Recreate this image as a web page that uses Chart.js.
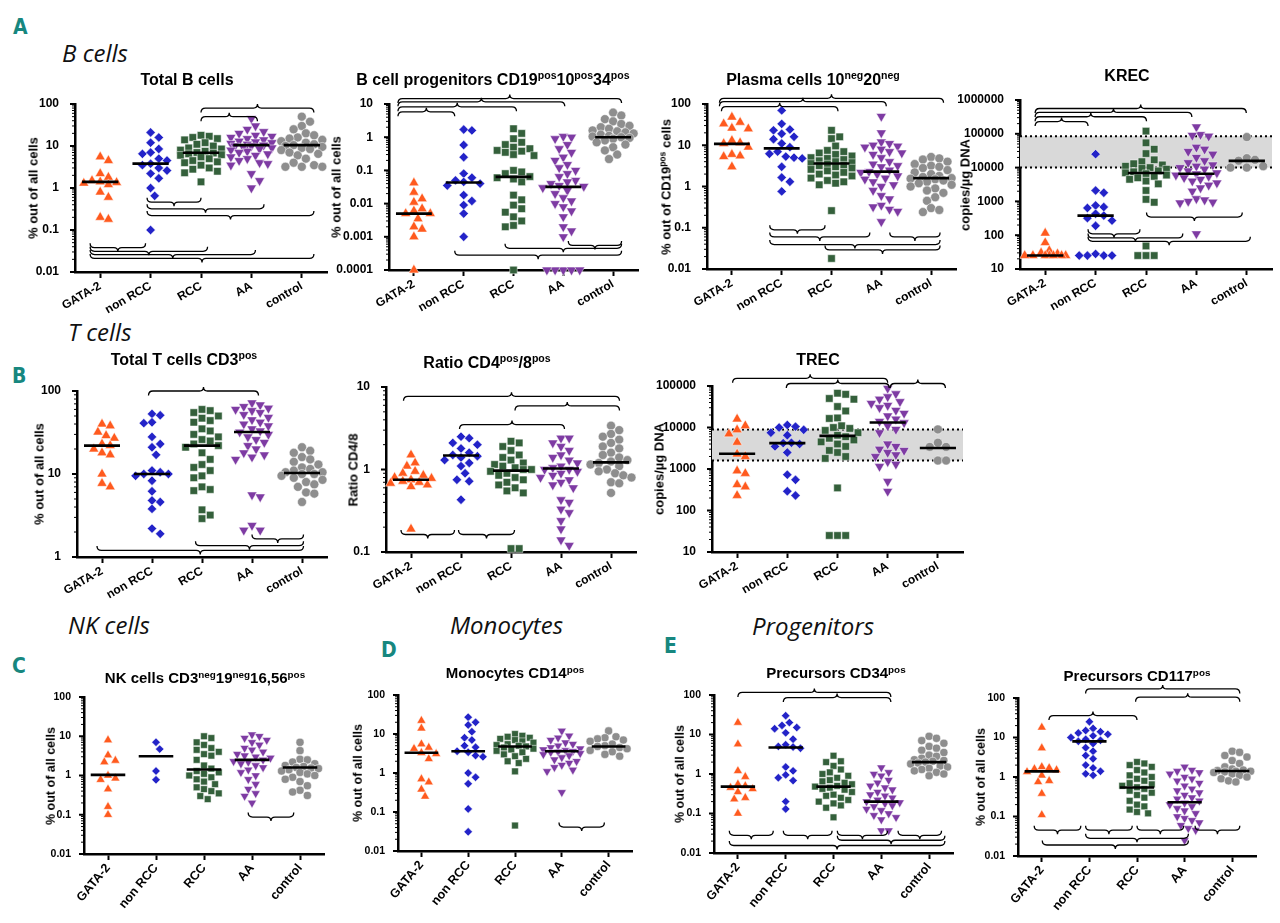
<!DOCTYPE html>
<html>
<head>
<meta charset="utf-8">
<script src="https://cdn.jsdelivr.net/npm/chart.js@4.4.1/dist/chart.umd.min.js"></script>
<style>
  body { margin: 0; background: #fff; width: 1280px; height: 923px; overflow: hidden; position: relative;
         font-family: "Liberation Sans", Arial, sans-serif; color: #000; }
  canvas { position: absolute; }
  .title { position: absolute; transform: translate(-50%, -50%); font-weight: bold; white-space: nowrap; line-height: 1; }
  .ytitle { position: absolute; transform: translate(-50%, -50%) rotate(-90deg); font-weight: bold; white-space: nowrap; line-height: 1; }
  sup { font-size: 0.66em; vertical-align: 0; position: relative; top: -0.55em; }
  .sect { position: absolute; transform: translateY(-50%); font-family: "Open Sans", sans-serif; font-style: italic; font-size: 24px; line-height: 1; color: #111; }
  .letter { position: absolute; transform: translateY(-50%); font-family: "DejaVu Sans Condensed", sans-serif; font-weight: bold; font-size: 21px; line-height: 1; color: #17877f; }
</style>
</head>
<body>
<div class="letter" style="left:13px;top:27px">A</div>
<div class="sect" style="left:62px;top:53px">B cells</div>
<div class="sect" style="left:68px;top:332px">T cells</div>
<div class="letter" style="left:12px;top:376px">B</div>
<div class="sect" style="left:68px;top:625px">NK cells</div>
<div class="letter" style="left:12px;top:666px">C</div>
<div class="sect" style="left:450px;top:625px">Monocytes</div>
<div class="letter" style="left:381px;top:650px">D</div>
<div class="sect" style="left:752px;top:626px">Progenitors</div>
<div class="letter" style="left:664px;top:646px">E</div>

<script>
// Gruppen
const groups = ['GATA-2', 'non RCC', 'RCC', 'AA', 'control'];

// Total B cells (% out of all cells)
const totalB = [
  [5.5, 4.5, 2.2, 1.8, 1.5, 1.4, 1.35, 1.3, 1.2, 0.8, 0.6, 0.2, 0.18],
  [21, 16, 12, 8.5, 7, 6.5, 5, 4.5, 3.8, 3.5, 3, 2.6, 2.2, 1.7, 1.0, 0.65, 0.1],
  [18, 17, 16, 15, 14, 12, 11, 10, 9, 8.5, 8, 7.5, 7, 6.8, 6.5, 6.2, 6, 5.5, 5, 4.5, 4.2, 4, 3.5, 3, 2.8, 2.5, 2.3, 1.4],
  [45, 30, 25, 22, 20, 18, 17, 16, 15, 14, 13, 12.5, 12, 11.5, 11, 10.5, 10, 10, 9.5, 9, 8.5, 8, 7.5, 7, 6.5, 6, 5.5, 5, 4.5, 4, 3.8, 3.5, 2.2, 1.5, 1.0],
  [50, 38, 30, 25, 20, 18, 16, 15, 14, 13, 12, 11, 10.5, 10, 9.5, 9, 8.5, 8, 7, 6.5, 6, 5, 4, 3.5, 3.2, 3.2, 3.2]
];
const totalB_med = [1.4, 3.8, 6.9, 10.5, 10.5];
// Klammern: [von, bis, y-Wert, Richtung (1 = oben, -1 = unten)]
const totalB_br = [
  [2.0, 4.24, 80, 1], [2.0, 3.12, 50, 1],
  [0.93, 2.0, 0.46, -1], [0.93, 3.25, 0.32, -1], [0.93, 4.24, 0.22, -1],
  [-0.2, 0.9, 0.038, -1], [-0.2, 2.13, 0.031, -1], [-0.2, 3.08, 0.026, -1], [-0.2, 4.24, 0.021, -1]
];

// B cell progenitors
const progB = [
  [0.042, 0.022, 0.014, 0.011, 0.007, 0.006, 0.005, 0.005, 0.0035, 0.002, 0.0017, 0.001, 0.0001],
  [1.7, 1.6, 0.58, 0.25, 0.08, 0.06, 0.05, 0.045, 0.04, 0.035, 0.018, 0.012, 0.009, 0.005, 0.001],
  [1.8, 1.3, 0.9, 0.7, 0.6, 0.5, 0.45, 0.4, 0.38, 0.35, 0.3, 0.28, 0.1, 0.09, 0.08, 0.065, 0.06, 0.055, 0.045, 0.018, 0.013, 0.009, 0.007, 0.0055, 0.004, 0.003, 0.0022, 0.002, 0.0001],
  [1.05, 1.0, 0.9, 0.6, 0.45, 0.35, 0.25, 0.2, 0.15, 0.12, 0.1, 0.08, 0.065, 0.05, 0.045, 0.04, 0.035, 0.033, 0.03, 0.025, 0.02, 0.015, 0.012, 0.01, 0.008, 0.006, 0.004, 0.002, 0.0015, 0.001, 0.0001, 0.0001, 0.0001, 0.0001, 0.0001],
  [5.5, 4.5, 3.5, 3, 2.5, 2.2, 2, 1.8, 1.6, 1.5, 1.4, 1.3, 1.2, 1.1, 1.05, 1.0, 0.95, 0.9, 0.8, 0.7, 0.6, 0.5, 0.4, 0.3, 0.22]
];
const progB_med = [0.005, 0.043, 0.064, 0.032, 1.0];
const progB_br = [
  [-0.32, 4.17, 14.6, 1], [-0.32, 3.03, 11.6, 1], [-0.32, 2.06, 8.2, 1], [-0.32, 0.82, 5.8, 1],
  [3.1, 4.17, 0.00055, -1], [1.83, 4.17, 0.00045, -1], [0.82, 4.17, 0.00028, -1]
];

// Plasma cells (% out of CD19pos cells)
const plasma = [
  [48, 36, 33, 26, 25, 13, 11.5, 11, 9, 6, 5.5, 5.3, 3],
  [70, 33, 24, 23, 19, 16, 14, 11, 9, 7, 6.2, 5.3, 5, 4.8, 3, 1.65, 1.3, 0.76],
  [23, 16, 14.5, 9.6, 7.5, 7, 6.5, 6, 5.5, 5, 4.8, 4.5, 4.2, 4, 3.8, 3.6, 3.5, 3.3, 3.2, 3, 2.8, 2.6, 2.4, 2.2, 2, 1.9, 1.8, 1.6, 1.4, 1.3, 1.2, 1.1, 0.26, 0.018],
  [50, 20, 12, 11, 10, 9.5, 9, 8, 7, 6.5, 6, 5, 4, 3.5, 3.2, 3, 2.5, 2.3, 2.2, 2, 1.8, 1.6, 1.5, 1.3, 1.1, 1, 0.8, 0.6, 0.5, 0.35, 0.32, 0.28, 0.25, 0.14],
  [5.2, 4.8, 4.5, 4, 3.5, 3.2, 3, 2.8, 2.5, 2.2, 2, 1.8, 1.7, 1.6, 1.55, 1.5, 1.4, 1.3, 1.2, 1.1, 1, 0.9, 0.8, 0.7, 0.55, 0.45, 0.3, 0.27, 0.24]
];
const plasma_med = [10.8, 8.4, 3.6, 2.3, 1.6];
const plasma_br = [
  [-0.25, 4.25, 137, 1], [-0.25, 3.1, 114, 1], [-0.21, 2.13, 86, 1],
  [0.76, 1.87, 0.089, -1], [0.76, 2.77, 0.06, -1], [3.17, 4.18, 0.06, -1], [0.76, 4.18, 0.039, -1], [1.87, 4.18, 0.029, -1]
];

// KREC (copies/µg DNA)
const krec = [
  [115, 60, 35, 30, 28, 25, 25, 25, 25, 25, 25, 25],
  [25000, 2100, 1800, 760, 680, 640, 430, 380, 320, 270, 190, 28, 25, 25, 25, 25],
  [120000, 54000, 35000, 26000, 17000, 15000, 13000, 12000, 11000, 10000, 9500, 9000, 8000, 7500, 7000, 6600, 6000, 5500, 5000, 4500, 4000, 3300, 2100, 1150, 940, 48, 25, 25, 25],
  [160000, 95000, 90000, 85000, 40000, 35000, 30000, 25000, 20000, 16000, 14000, 12000, 11000, 10000, 9000, 8000, 7000, 6500, 6000, 5500, 5000, 4500, 4000, 3500, 3000, 2500, 2000, 1200, 1100, 1000, 950, 900, 110],
  [80000, 19000, 17000, 16000, 11000, 10000, 10000]
];
const krec_med = [25, 380, 6900, 6600, 15800];
const krec_band = [10000, 85000];
const krec_br = [
  [-0.2, 3.99, 560000, 1], [-0.2, 2.91, 430000, 1], [-0.2, 2.01, 320000, 1], [-0.2, 0.85, 230000, 1],
  [2.01, 3.91, 343, -1], [0.85, 1.88, 110, -1], [0.85, 2.73, 83, -1], [0.85, 4.07, 66, -1]
];

// Total T cells CD3pos
const totalT = [
  [40, 38, 32, 29, 27, 23, 22, 20, 18, 17, 10, 7.7, 7],
  [53, 51, 42, 41, 28, 23, 21, 17, 11, 10.5, 10, 10, 9.5, 8.3, 6.2, 4.8, 4.6, 3.8, 2.2, 1.9],
  [60, 58, 55, 50, 47, 44, 42, 35, 33, 30, 28, 26, 25, 23, 22, 21, 18, 15, 13, 12, 11, 9.5, 9, 7, 6.5, 6.3, 3.7, 3.2, 2.9],
  [72, 68, 65, 62, 60, 58, 55, 52, 48, 45, 42, 40, 38, 35, 33, 32, 30, 28, 26, 24, 22, 20, 18, 17, 16, 15, 5.6, 5.3, 2.4, 2.1, 2.1],
  [21, 19, 18, 16, 15, 14, 13, 12, 11.5, 11, 10.5, 10.5, 10, 10, 9.5, 9, 8.5, 8, 7.5, 7, 6, 5.8, 4.6]
];
const totalT_med = [22, 10, 22, 32, 10.3];
const totalT_br = [
  [0.93, 3.13, 100, 1],
  [3.0, 4.03, 1.65, -1], [1.87, 4.03, 1.37, -1], [-0.1, 4.03, 1.2, -1]
];

// Ratio CD4/8
const ratio = [
  [1.5, 1.2, 1.1, 0.95, 0.9, 0.85, 0.8, 0.78, 0.75, 0.72, 0.7, 0.68, 0.65, 0.62, 0.19],
  [2.5, 2.4, 2.1, 2.0, 1.8, 1.6, 1.5, 1.45, 1.4, 1.3, 1.2, 1.1, 0.9, 0.75, 0.72, 0.43],
  [2.2, 2.1, 1.9, 1.7, 1.5, 1.4, 1.3, 1.2, 1.15, 1.1, 1.05, 1.0, 1.0, 0.95, 0.9, 0.85, 0.8, 0.75, 0.7, 0.65, 0.6, 0.55, 0.52, 0.11, 0.11],
  [2.4, 2.4, 2.1, 1.9, 1.7, 1.5, 1.4, 1.3, 1.2, 1.1, 1.05, 1.0, 1.0, 0.95, 0.9, 0.85, 0.8, 0.75, 0.7, 0.65, 0.6, 0.43, 0.4, 0.33, 0.3, 0.24, 0.19, 0.14, 0.12],
  [3.4, 3.0, 2.7, 2.5, 2.3, 2.1, 1.9, 1.8, 1.6, 1.5, 1.4, 1.3, 1.25, 1.2, 1.15, 1.1, 1.0, 0.95, 0.9, 0.85, 0.8, 0.7, 0.68, 0.52]
];
const ratio_med = [0.75, 1.48, 0.97, 1.03, 1.22];
const ratio_br = [
  [-0.15, 4.17, 7.7, 1], [2.08, 4.17, 5.9, 1], [0.97, 3.07, 3.5, 1],
  [-0.2, 0.87, 0.163, -1], [0.95, 2.07, 0.163, -1]
];

// TREC (copies/µg DNA)
const trec = [
  [16000, 11000, 8800, 7000, 4400, 2300, 2000, 900, 780, 420, 370, 230],
  [11500, 10500, 10000, 8800, 7500, 6500, 4300, 4200, 4000, 3500, 2500, 730, 550, 290, 230],
  [67000, 63000, 50000, 48000, 32000, 25000, 17000, 16500, 11000, 10000, 9500, 8500, 7500, 6500, 6000, 5500, 5000, 4500, 4000, 3500, 2800, 2500, 2000, 1800, 350, 25, 25, 25],
  [88000, 65000, 55000, 48000, 42000, 38000, 34000, 30000, 26000, 22000, 19000, 16000, 14000, 13000, 11000, 9000, 7500, 4000, 3500, 3000, 2800, 2500, 2200, 2000, 1500, 1300, 1150, 500, 290],
  [9000, 4300, 3400, 3400, 1600, 1600]
];
const trec_med = [2330, 4200, 6300, 13200, 3200];
const trec_band = [1600, 9000];
const trec_br = [
  [-0.09, 3.0, 153000, 1], [0.98, 3.03, 115000, 1], [3.05, 4.15, 115000, 1]
];

// NK cells
const nk = [
  [8, 3.3, 2.4, 2.2, 1.0, 0.85, 0.78, 0.45, 0.16, 0.1],
  [7, 4.7, 1.3, 0.78],
  [10, 9, 7, 6, 5, 4.5, 4, 3.5, 3.2, 2.5, 1.8, 1.5, 1.3, 1.2, 1.1, 1.0, 0.9, 0.8, 0.7, 0.6, 0.5, 0.45, 0.4, 0.35, 0.3, 0.25],
  [11, 10, 9, 8, 7, 6, 5, 4.5, 4, 3.5, 3.2, 3, 2.8, 2.5, 2.3, 2.2, 2, 1.8, 1.6, 1.4, 1.2, 1, 0.8, 0.6, 0.45, 0.35, 0.3, 0.2],
  [7, 4.3, 2.6, 2.5, 2.2, 2, 1.8, 1.7, 1.6, 1.55, 1.5, 1.4, 1.3, 1.2, 1.1, 1, 0.9, 0.8, 0.7, 0.55, 0.42, 0.38, 0.31]
];
const nk_med = [1.04, 3.1, 1.42, 2.5, 1.6];
const nk_br = [[2.92, 3.87, 0.087, -1]];

// Monocytes CD14pos
const mono = [
  [22, 14, 5.5, 4.5, 4.2, 3.3, 3.1, 2.3, 0.7, 0.58, 0.38, 0.25],
  [27, 20, 17, 11.5, 8, 7, 5, 4.6, 3.6, 3.4, 2.8, 2.6, 1.0, 0.78, 0.53, 0.12, 0.031],
  [10, 9, 8.5, 8, 7.5, 7, 6.5, 6, 5.5, 5.2, 5, 4.8, 4.5, 4.2, 4, 3.7, 3.4, 3, 2.7, 2.3, 2, 1.8, 1.1, 0.045],
  [12, 9, 8, 7, 6, 5.5, 5, 4.5, 4.2, 4, 3.8, 3.6, 3.5, 3.4, 3.2, 3, 2.8, 2.5, 2.2, 2, 1.8, 1.6, 1.4, 1.2, 1.1, 0.32],
  [12, 8.5, 8, 7.5, 7, 6.5, 5.5, 5, 4.8, 4.5, 4.2, 3.8, 3.5, 3, 2.7]
];
const mono_med = [3.3, 3.6, 4.8, 3.6, 4.8];
const mono_br = [[2.94, 3.91, 0.041, -1]];

// Precursors CD34pos
const cd34 = [
  [20, 5.7, 1.2, 0.85, 0.55, 0.5, 0.45, 0.42, 0.35, 0.25, 0.23, 0.1],
  [30, 20, 17, 15, 14, 11, 7.6, 5.5, 5, 4.8, 4.5, 1.5, 1.2, 0.95, 0.8, 0.68, 0.2, 0.13],
  [2.9, 2.1, 2, 1.6, 1.3, 1.1, 1, 0.9, 0.8, 0.7, 0.65, 0.6, 0.55, 0.5, 0.48, 0.45, 0.42, 0.4, 0.35, 0.3, 0.28, 0.25, 0.22, 0.2, 0.18, 0.16, 0.14, 0.08],
  [1.45, 1.1, 1.0, 0.9, 0.7, 0.6, 0.5, 0.45, 0.4, 0.35, 0.3, 0.28, 0.25, 0.22, 0.2, 0.19, 0.18, 0.16, 0.15, 0.13, 0.12, 0.1, 0.09, 0.08, 0.07, 0.037, 0.037],
  [9, 8, 7, 6, 5, 4.5, 4, 3.5, 3, 2.8, 2.5, 2.3, 2.2, 2.1, 2, 1.9, 1.8, 1.6, 1.5, 1.4, 1.3, 1.2, 1.1, 1.0, 0.9]
];
const cd34_med = [0.48, 4.7, 0.48, 0.2, 2.0];
const cd34_br = [
  [0, 3.2, 116, 1], [0.95, 3.2, 86, 1],
  [-0.18, 0.74, 0.028, -1], [0.95, 1.97, 0.028, -1], [2.08, 3.13, 0.028, -1], [3.35, 4.26, 0.028, -1],
  [2.08, 4.33, 0.021, -1], [-0.18, 4.33, 0.0155, -1]
];

// Precursors CD117pos
const cd117 = [
  [18, 5.4, 1.8, 1.7, 1.6, 1.5, 1.35, 1.1, 0.8, 0.75, 0.38, 0.11],
  [25, 17, 15, 14, 13, 12, 11, 10, 9, 8.5, 8, 7, 5.5, 4.5, 3.5, 2.9, 2, 1.7, 1.4, 1.2, 1.1],
  [2.4, 2.2, 2, 1.8, 1.5, 1.3, 1.1, 1, 0.9, 0.8, 0.7, 0.65, 0.6, 0.55, 0.5, 0.45, 0.4, 0.35, 0.3, 0.25, 0.2, 0.18, 0.15, 0.13, 0.12],
  [1.8, 1.5, 1.4, 1.3, 1.2, 1, 0.9, 0.8, 0.7, 0.6, 0.5, 0.45, 0.4, 0.35, 0.3, 0.28, 0.25, 0.22, 0.2, 0.18, 0.16, 0.14, 0.12, 0.1, 0.09, 0.08, 0.07, 0.06, 0.05, 0.045, 0.025],
  [4.5, 4.2, 3.5, 3.2, 2.6, 2.2, 1.8, 1.6, 1.5, 1.45, 1.4, 1.4, 1.35, 1.3, 1.2, 1.1, 1, 0.9, 0.8, 0.75]
];
const cd117_med = [1.39, 8, 0.54, 0.23, 1.42];
const cd117_br = [
  [0.92, 4.16, 170, 1], [1.97, 4.16, 105, 1], [0.15, 2.0, 36, 1],
  [-0.16, 0.82, 0.045, -1], [0.92, 1.9, 0.045, -1], [2.0, 2.98, 0.045, -1], [3.22, 4.16, 0.045, -1],
  [0.92, 3.08, 0.028, -1], [0.01, 3.08, 0.019, -1]
];

// Aussehen der Gruppen
const colors = ['#ff5a1e', '#2323c8', '#34603b', '#7e3ba3', '#8e8e8e'];
const shapes = ['triangle', 'rectRot', 'rect', 'triangle', 'circle'];
const turns = [0, 0, 0, 180, 0];
const sizes = [5.8, 4.7, 5.3, 5.8, 4.5];

// Lage der Achsen im Bild (L/R = x-Achse, T/B = y-Achse)
const panels = [
  { data: totalB, med: totalB_med, br: totalB_br, min: 0.01, max: 100, L: 75, R: 327, T: 104, B: 272, row: 1,
    title: 'Total B cells', tx: 187, ty: 80, ytitle: '% out of all cells', yoff: 42 },
  { data: progB, med: progB_med, br: progB_br, min: 0.0001, max: 10, L: 389, R: 638, T: 104, B: 270, row: 1,
    title: 'B cell progenitors CD19<sup>pos</sup>10<sup>pos</sup>34<sup>pos</sup>', tx: 493, ty: 80, ytitle: '% out of all cells', yoff: 53 },
  { data: plasma, med: plasma_med, br: plasma_br, min: 0.01, max: 100, L: 707, R: 956, T: 104, B: 269, row: 1,
    title: 'Plasma cells 10<sup>neg</sup>20<sup>neg</sup>', tx: 813, ty: 80, ytitle: '% out of CD19<sup>pos</sup> cells', yoff: 41 },
  { data: krec, med: krec_med, br: krec_br, band: krec_band, min: 10, max: 1000000, L: 1020, R: 1272, T: 100, B: 269, row: 1,
    title: 'KREC', tx: 1127, ty: 76, ytitle: 'copies/µg DNA', yoff: 55 },
  { data: totalT, med: totalT_med, br: totalT_br, min: 1, max: 100, L: 77, R: 327, T: 391, B: 557, row: 2,
    title: 'Total T cells CD3<sup>pos</sup>', tx: 184, ty: 360, ytitle: '% out of all cells', yoff: 38 },
  { data: ratio, med: ratio_med, br: ratio_br, min: 0.1, max: 10, L: 386, R: 636, T: 387, B: 552, row: 2,
    title: 'Ratio CD4<sup>pos</sup>/8<sup>pos</sup>', tx: 487, ty: 363, ytitle: 'Ratio CD4/8', yoff: 33 },
  { data: trec, med: trec_med, br: trec_br, band: trec_band, min: 10, max: 100000, L: 712, R: 963, T: 386, B: 552, row: 2,
    title: 'TREC', tx: 818, ty: 360, ytitle: 'copies/µg DNA', yoff: 53 },
  { data: nk, med: nk_med, br: nk_br, min: 0.01, max: 100, L: 84, R: 324, T: 697, B: 854, row: 3,
    title: 'NK cells CD3<sup>neg</sup>19<sup>neg</sup>16,56<sup>pos</sup>', tx: 205, ty: 677, ytitle: '% out of all cells', yoff: 33 },
  { data: mono, med: mono_med, br: mono_br, min: 0.01, max: 100, L: 398, R: 632, T: 695, B: 851, row: 3,
    title: 'Monocytes CD14<sup>pos</sup>', tx: 515, ty: 672, ytitle: '% out of all cells', yoff: 40 },
  { data: cd34, med: cd34_med, br: cd34_br, min: 0.01, max: 100, L: 714, R: 953, T: 695, B: 853, row: 3,
    title: 'Precursors CD34<sup>pos</sup>', tx: 836, ty: 672, ytitle: '% out of all cells', yoff: 34 },
  { data: cd117, med: cd117_med, br: cd117_br, min: 0.01, max: 100, L: 1018, R: 1256, T: 698, B: 856, row: 3,
    title: 'Precursors CD117<sup>pos</sup>', tx: 1137, ty: 675, ytitle: '% out of all cells', yoff: 37 }
];

// einfacher Beeswarm: Versatz in x aus den Werten berechnen
function swarm(vals, ppd, ppc, diam) {
  const idx = vals.map((v, k) => k).sort((a, b) => vals[b] - vals[a]);
  const placed = [], off = [];
  const cands = [0];
  for (let s = diam / 2; s <= ppc * 0.44; s += diam / 2) cands.push(s, -s);
  idx.forEach(k => {
    const py = Math.log10(vals[k]) * ppd;
    let best = 0, bestD = -1;
    for (const c of cands) {
      let dmin = Infinity;
      for (const q of placed) dmin = Math.min(dmin, Math.hypot(c - q[0], py - q[1]));
      if (dmin >= diam) { best = c; break; }
      if (dmin > bestD) { bestD = dmin; best = c; }
    }
    placed.push([best, py]);
    off[k] = best / ppc;
  });
  return off;
}

function brace(ctx, x1, x2, y, dir) {
  const h = 4.5, t = 4, xm = (x1 + x2) / 2;
  ctx.beginPath();
  ctx.moveTo(x1, y + h * dir);
  ctx.quadraticCurveTo(x1, y, x1 + h, y);
  ctx.lineTo(xm - t, y);
  ctx.quadraticCurveTo(xm, y, xm, y - t * dir);
  ctx.quadraticCurveTo(xm, y, xm + t, y);
  ctx.lineTo(x2 - h, y);
  ctx.quadraticCurveTo(x2, y, x2, y + h * dir);
  ctx.stroke();
}

function fmt(v) {
  const e = Math.round(Math.log10(v));
  return e < 0 ? v.toFixed(-e) : String(Math.round(v));
}

const PT = 45, XH = 80, YW = 75, PR = 12;

function makePanel(cfg) {
  const small = cfg.row === 3;
  const left = cfg.L - YW, top = cfg.T - PT;
  const w = cfg.R - left + PR, h = cfg.B - top + XH;
  const canvas = document.createElement('canvas');
  canvas.width = w; canvas.height = h;
  canvas.style.left = left + 'px'; canvas.style.top = top + 'px';
  canvas.style.width = w + 'px'; canvas.style.height = h + 'px';
  document.body.appendChild(canvas);

  const t = document.createElement('div');
  t.className = 'title';
  t.style.left = cfg.tx + 'px'; t.style.top = cfg.ty + 'px';
  t.style.fontSize = (small ? 15 : 16) + 'px';
  t.innerHTML = cfg.title;
  document.body.appendChild(t);

  const yt = document.createElement('div');
  yt.className = 'ytitle';
  yt.style.left = (cfg.L - cfg.yoff) + 'px'; yt.style.top = ((cfg.T + cfg.B) / 2) + 'px';
  yt.style.fontSize = (small ? 12.5 : 13) + 'px';
  yt.innerHTML = cfg.ytitle;
  document.body.appendChild(yt);

  const ppd = (cfg.B - cfg.T) / Math.log10(cfg.max / cfg.min);
  const ppc = (cfg.R - cfg.L) / 5;
  const k = small ? 0.9 : 1;
  const datasets = [];
  cfg.data.forEach((vals, i) => {
    const off = swarm(vals, ppd, ppc, 8.2 * k);
    datasets.push({
      data: vals.map((v, j) => ({ x: i + off[j], y: v })),
      pointStyle: shapes[i], rotation: turns[i], pointRadius: sizes[i] * k,
      backgroundColor: colors[i], borderColor: '#ffffff', borderWidth: 0.5,
      clip: false, order: 2
    });
  });
  cfg.med.forEach((m, i) => {
    datasets.push({
      data: [{ x: i - 0.36, y: m }, { x: i + 0.36, y: m }],
      showLine: true, borderColor: '#000', borderWidth: 2.6, pointRadius: 0,
      clip: false, order: 0
    });
  });

  const deco = {
    id: 'deco',
    beforeDatasetsDraw(chart) {
      if (!cfg.band) return;
      const { ctx, chartArea: a } = chart, y = chart.scales.y;
      const y1 = y.getPixelForValue(cfg.band[0]), y2 = y.getPixelForValue(cfg.band[1]);
      ctx.save();
      ctx.fillStyle = '#d9d9d9';
      ctx.fillRect(a.left, y2, a.right - a.left, y1 - y2);
      ctx.strokeStyle = '#000'; ctx.lineWidth = 2; ctx.setLineDash([2, 3]);
      [y1, y2].forEach(py => { ctx.beginPath(); ctx.moveTo(a.left, py); ctx.lineTo(a.right, py); ctx.stroke(); });
      ctx.restore();
    },
    afterDatasetsDraw(chart) {
      const { ctx } = chart, x = chart.scales.x, y = chart.scales.y;
      ctx.save();
      ctx.strokeStyle = '#000'; ctx.lineWidth = 1.3;
      cfg.br.forEach(b => brace(ctx, x.getPixelForValue(b[0]), x.getPixelForValue(b[1]), y.getPixelForValue(b[2]), b[3]));
      ctx.restore();
    },
    afterDraw(chart) {
      const { ctx, chartArea: a } = chart, y = chart.scales.y;
      ctx.save(); ctx.strokeStyle = '#000';
      const e0 = Math.round(Math.log10(cfg.min)), e1 = Math.round(Math.log10(cfg.max));
      for (let e = e0; e <= e1; e++) {
        for (let m = 1; m <= 9; m++) {
          if (e === e1 && m > 1) break;
          const py = y.getPixelForValue(m * Math.pow(10, e));
          ctx.lineWidth = m === 1 ? 2 : 1;
          ctx.beginPath(); ctx.moveTo(a.left, py); ctx.lineTo(a.left - (m === 1 ? 5 : 3), py); ctx.stroke();
        }
      }
      ctx.restore();
    }
  };

  new Chart(canvas, {
    type: 'scatter',
    data: { datasets },
    options: {
      responsive: false, animation: false, events: [],
      layout: { padding: { top: PT, right: PR, left: 0, bottom: 0 } },
      plugins: { legend: { display: false }, tooltip: { enabled: false } },
      scales: {
        x: {
          type: 'linear', min: -0.5, max: 4.5,
          afterBuildTicks: s => { s.ticks = groups.map((g, i) => ({ value: i })); },
          afterFit: s => { s.height = XH; },
          ticks: {
            callback: v => groups[v], autoSkip: false,
            minRotation: small ? 50 : 30, maxRotation: small ? 50 : 30,
            color: '#000', padding: 1,
            font: { family: '"Liberation Sans", Arial, sans-serif', weight: 'bold', size: small ? 12.5 : 12 }
          },
          grid: { display: true, drawOnChartArea: false, drawTicks: true, tickLength: 6, tickWidth: 2, tickColor: '#000' },
          border: { display: true, color: '#000', width: 2.5 }
        },
        y: {
          type: 'logarithmic', min: cfg.min, max: cfg.max,
          afterFit: s => { s.width = YW; },
          ticks: {
            autoSkip: false, padding: small ? 5 : 8, color: '#000',
            font: { family: '"Liberation Sans", Arial, sans-serif', weight: 'bold', size: small ? 10.5 : 12 },
            callback: v => {
              const l = Math.log10(v);
              return Math.abs(l - Math.round(l)) < 1e-6 ? fmt(v) : '';
            }
          },
          grid: { display: false },
          border: { display: true, color: '#000', width: 2.5 }
        }
      }
    },
    plugins: [deco]
  });
}

panels.forEach(makePanel);
</script>
</body>
</html>
